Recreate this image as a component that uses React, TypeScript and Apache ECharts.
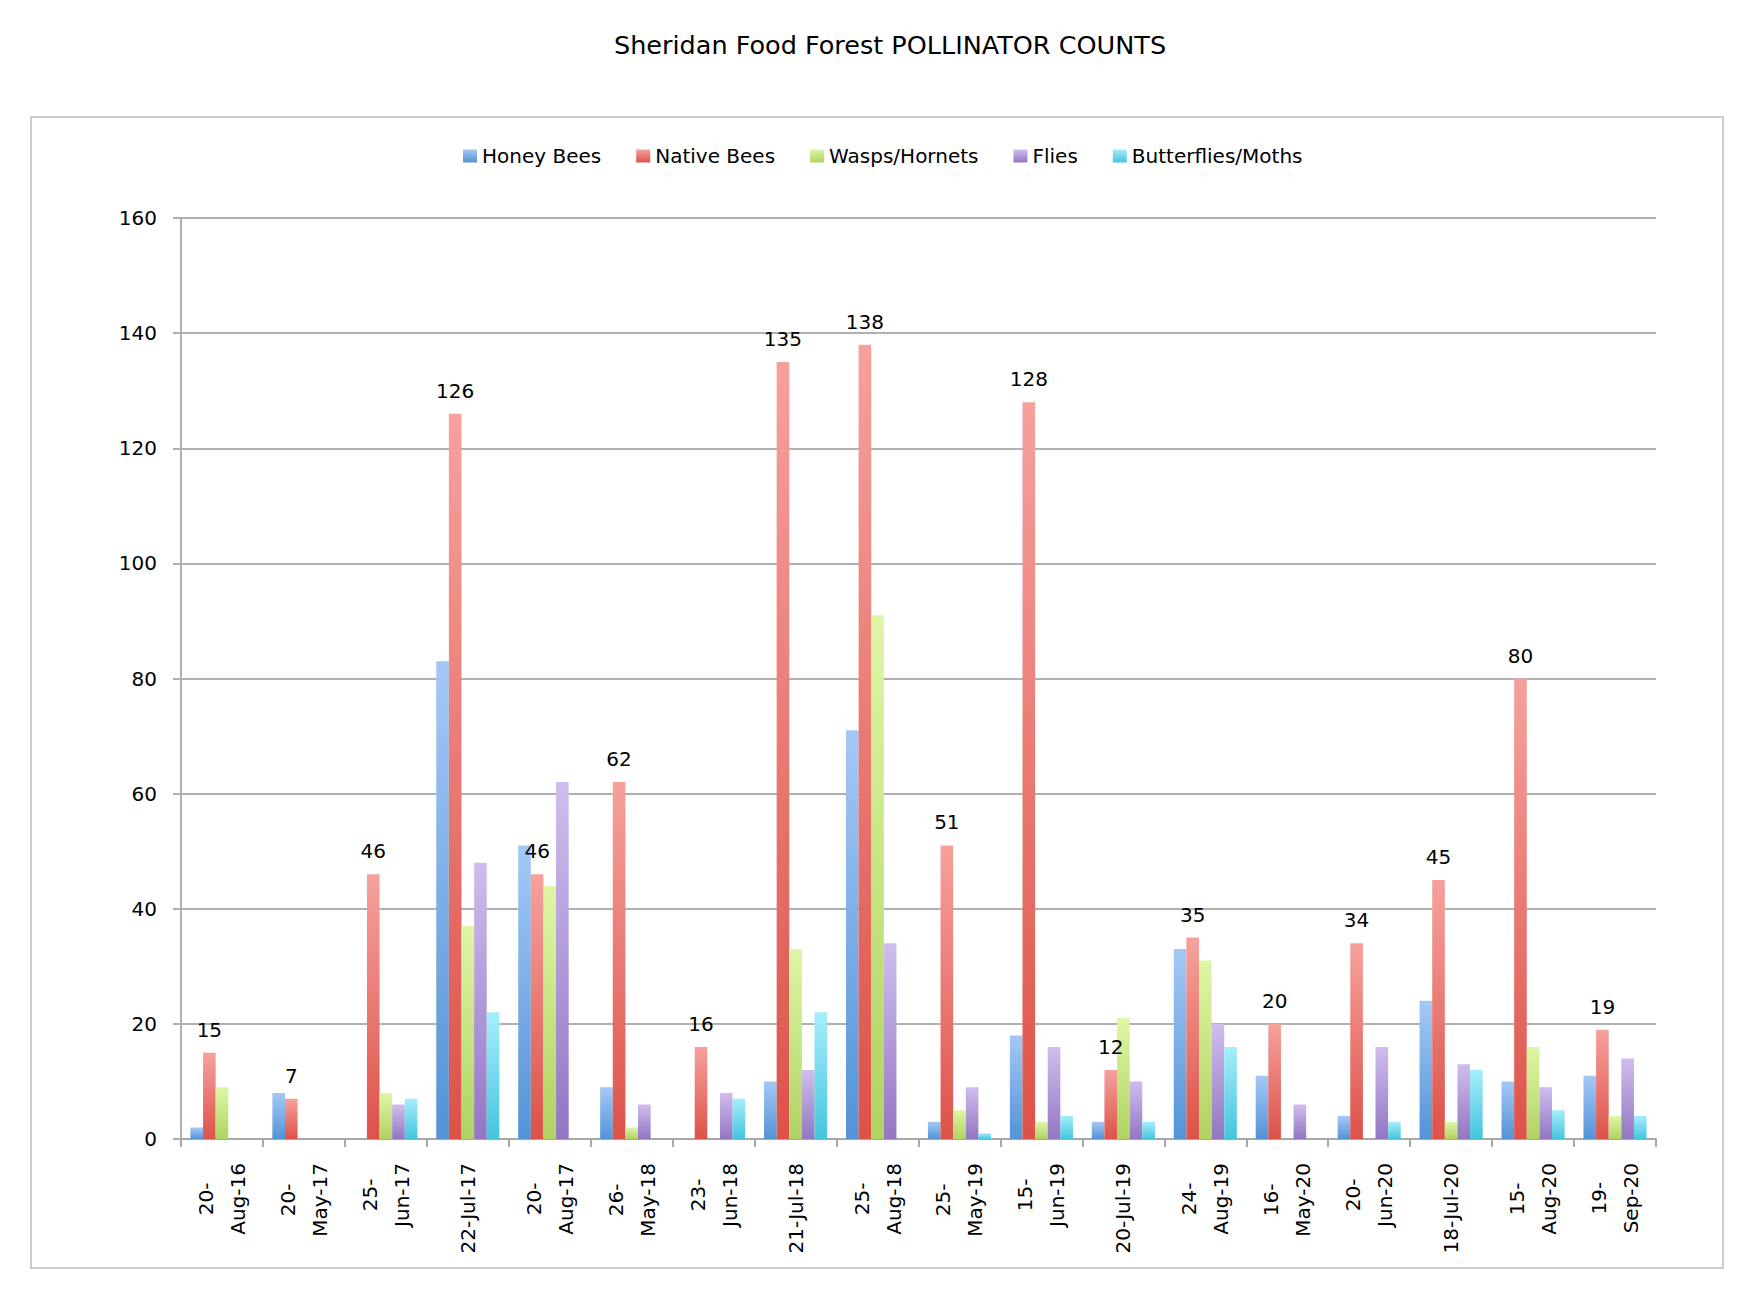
import React, { useEffect, useRef } from "react";
import * as echarts from "echarts";

const categories = [
  "20-Aug-16", "20-May-17", "25-Jun-17", "22-Jul-17", "20-Aug-17", "26-May-18",
  "23-Jun-18", "21-Jul-18", "25-Aug-18", "25-May-19", "15-Jun-19", "20-Jul-19",
  "24-Aug-19", "16-May-20", "20-Jun-20", "18-Jul-20", "15-Aug-20", "19-Sep-20",
];
const xTickLabels = [
  "20-\nAug-16", "20-\nMay-17", "25-\nJun-17", "22-Jul-17", "20-\nAug-17", "26-\nMay-18",
  "23-\nJun-18", "21-Jul-18", "25-\nAug-18", "25-\nMay-19", "15-\nJun-19", "20-Jul-19",
  "24-\nAug-19", "16-\nMay-20", "20-\nJun-20", "18-Jul-20", "15-\nAug-20", "19-\nSep-20",
];
const seriesNames = ["Honey Bees", "Native Bees", "Wasps/Hornets", "Flies", "Butterflies/Moths"];
const honeyBees = [2, 8, 0, 83, 51, 9, 0, 10, 71, 3, 18, 3, 33, 11, 4, 24, 10, 11];
const nativeBees = [15, 7, 46, 126, 46, 62, 16, 135, 138, 51, 128, 12, 35, 20, 34, 45, 80, 19];
const waspsHornets = [9, 0, 8, 37, 44, 2, 0, 33, 91, 5, 3, 21, 31, 0, 0, 3, 16, 4];
const flies = [0, 0, 6, 48, 62, 6, 8, 12, 34, 9, 16, 10, 20, 6, 16, 13, 9, 14];
const butterfliesMoths = [0, 0, 7, 22, 0, 0, 7, 22, 0, 1, 4, 3, 16, 0, 3, 12, 5, 4];
const yMin = 0;
const yMax = 160;
const yStep = 20;

const colorTops = ["#a4c8f6", "#f6a19c", "#def6a6", "#d0bdee", "#a6eefa"];
const colorBottoms = ["#5393d6", "#dc5249", "#b0d262", "#9276c2", "#44c4de"];

const FONT = "DejaVu Sans";
const GRID_GRAY = "#b0b0b0";

export default function App() {
  const ref = useRef<HTMLDivElement>(null);

  useEffect(() => {
    if (!ref.current) return;
    const chart = echarts.init(ref.current, undefined, { renderer: "svg" });
    const grad = (i: number) =>
      new echarts.graphic.LinearGradient(0, 0, 0, 1, [
        { offset: 0, color: colorTops[i] },
        { offset: 1, color: colorBottoms[i] },
      ]);
    const datasets = [honeyBees, nativeBees, waspsHornets, flies, butterfliesMoths];

    const series = datasets.map((d, i) => ({
      name: seriesNames[i],
      type: "bar",
      data: d,
      barGap: "0%",
      barCategoryGap: "23%",
      itemStyle: { color: grad(i) },
      label:
        i === 1
          ? {
              show: true,
              position: "top",
              distance: 13,
              color: "#000",
              fontSize: 20,
              fontFamily: FONT,
            }
          : { show: false },
    }));

    chart.setOption({
      animation: false,
      backgroundColor: "#ffffff",
      textStyle: { fontFamily: FONT },
      title: {
        text: "Sheridan Food Forest POLLINATOR COUNTS",
        left: 609,
        top: 27,
        textStyle: { fontSize: 25.5, fontWeight: "normal", color: "#000", fontFamily: FONT },
      },
      graphic: [
        {
          type: "rect",
          shape: { x: 31, y: 117, width: 1692, height: 1151 },
          style: { fill: "none", stroke: "#cccccc", lineWidth: 2 },
          silent: true,
          z: -10,
        },
      ],
      legend: {
        data: seriesNames,
        left: 458,
        top: 141,
        icon: "rect",
        itemWidth: 14,
        itemHeight: 13,
        itemGap: 35,
        textStyle: { fontSize: 20, color: "#000", fontFamily: FONT },
      },
      grid: { left: 181, right: 96, top: 218, bottom: 159 },
      xAxis: {
        type: "category",
        data: categories,
        axisLine: { show: true, lineStyle: { color: "#a8a8a8", width: 2 } },
        axisTick: { show: true, length: 8, lineStyle: { color: "#a8a8a8", width: 2 } },
        axisLabel: {
          interval: 0,
          rotate: 90,
          margin: 24,
          formatter: (_v: string, idx: number) =>
            xTickLabels[idx]
              .split("\n")
              .map((s) => `{c|${s}}`)
              .join("\n"),
          rich: {
            c: {
              fontSize: 20,
              fontFamily: FONT,
              color: "#000",
              align: "center",
              lineHeight: 32,
            },
          },
        },
        splitLine: { show: false },
      },
      yAxis: {
        type: "value",
        min: yMin,
        max: yMax,
        interval: yStep,
        axisLine: { show: true, lineStyle: { color: GRID_GRAY, width: 2 } },
        axisTick: { show: true, length: 8, lineStyle: { color: GRID_GRAY, width: 2 } },
        axisLabel: { fontSize: 20, color: "#000", margin: 24, fontFamily: FONT },
        splitLine: { show: true, lineStyle: { color: GRID_GRAY, width: 2 } },
      },
      series,
    });

    return () => {
      chart.dispose();
    };
  }, []);

  return (
    <div
      ref={ref}
      style={{ position: "absolute", left: 0, top: 0, width: 1752, height: 1298, background: "#fff" }}
    />
  );
}
